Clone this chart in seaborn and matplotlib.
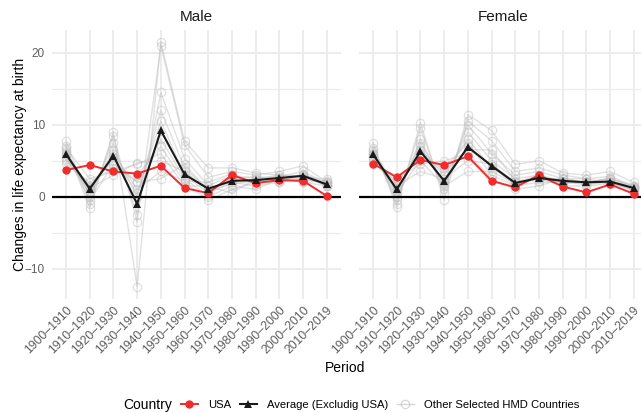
import matplotlib
matplotlib.use("Agg")
import matplotlib.pyplot as plt
from matplotlib.lines import Line2D
import numpy as np
import pandas as pd
import seaborn as sns

periods = ["1900–1910", "1910–1920", "1920–1930", "1930–1940", "1940–1950", "1950–1960",
           "1960–1970", "1970–1980", "1980–1990", "1990–2000", "2000–2010", "2010–2019"]

usa_male = [3.7, 4.4, 3.5, 3.2, 4.3, 1.2, 0.5, 3.0, 1.9, 2.3, 2.2, 0.1]
avg_male = [5.9, 1.1, 5.7, -1.0, 9.2, 3.1, 1.1, 2.2, 2.3, 2.6, 2.9, 1.7]
usa_female = [4.6, 2.7, 5.1, 4.4, 5.6, 2.2, 1.3, 3.0, 1.4, 0.6, 1.7, 0.4]
avg_female = [5.9, 1.0, 6.3, 2.2, 6.9, 4.3, 1.9, 2.6, 2.2, 2.0, 2.1, 1.2]

others = ["Spain", "Italy", "France", "Netherlands", "Belgium", "Switzerland",
          "Denmark", "Sweden", "Norway", "Finland", "Canada"]

other_male = [
    [7.0, -1.6, 9.0, -12.5, 21.5, 7.7, 4.0, 4.0, 3.3, 3.0, 2.8, 2.4],
    [7.7, -1.0, 8.5, -3.5, 21.0, 7.2, 2.7, 3.5, 3.0, 3.5, 4.3, 2.0],
    [6.5, 0.0, 7.5, -2.5, 14.5, 5.3, 1.5, 3.0, 2.5, 2.8, 3.5, 1.8],
    [6.0, 0.5, 6.5, 0.0, 12.0, 4.0, 1.0, 2.5, 2.0, 2.5, 3.0, 1.5],
    [5.5, 1.0, 5.5, 0.5, 10.5, 3.0, 0.5, 2.0, 1.5, 2.0, 2.5, 1.8],
    [5.0, 1.5, 5.0, 2.0, 8.0, 2.5, 0.0, 1.5, 1.0, 2.5, 2.0, 1.5],
    [4.5, 2.0, 4.0, 3.0, 7.0, 2.0, -0.5, 1.0, 2.0, 2.0, 3.0, 2.0],
    [6.8, 2.5, 3.5, 4.5, 6.0, 1.5, 1.5, 0.5, 2.5, 3.0, 2.8, 1.5],
    [5.8, 1.2, 3.0, 4.7, 5.0, 3.5, 1.0, 2.5, 2.8, 2.5, 2.0, 2.2],
    [5.2, 0.8, 6.0, 1.0, 3.5, 2.2, 2.0, 3.2, 1.8, 2.2, 3.2, 1.6],
    [6.2, -0.5, 4.5, 2.0, 2.5, 4.5, 0.8, 1.8, 2.2, 2.6, 2.5, 1.9],
]

other_female = [
    [7.5, -1.5, 10.3, -0.5, 11.4, 9.2, 4.5, 5.0, 3.3, 3.0, 3.5, 2.0],
    [6.8, -1.0, 9.5, 0.5, 10.5, 7.8, 3.5, 4.0, 3.0, 2.5, 2.8, 1.5],
    [6.5, -0.5, 8.0, 1.0, 10.0, 6.0, 3.0, 3.5, 2.5, 2.0, 2.5, 1.2],
    [6.0, 0.0, 7.5, 2.0, 9.0, 5.0, 2.5, 3.0, 2.0, 1.8, 2.0, 0.8],
    [5.5, 1.0, 6.5, 3.0, 8.0, 4.0, 2.0, 2.5, 1.5, 1.5, 1.8, 1.2],
    [5.0, 2.0, 5.5, 4.0, 7.5, 3.0, 1.5, 2.0, 2.0, 2.0, 2.5, 1.5],
    [4.5, 2.5, 4.5, 5.0, 6.0, 2.5, 1.0, 1.5, 2.5, 2.5, 2.0, 1.0],
    [6.2, 1.5, 3.5, 2.5, 5.0, 4.5, 2.0, 3.0, 2.2, 1.6, 2.2, 1.3],
    [5.8, 0.5, 5.0, 1.5, 3.5, 3.5, 1.8, 2.8, 1.8, 2.2, 1.8, 1.1],
    [5.2, 1.2, 6.0, 3.5, 6.5, 6.5, 2.2, 2.2, 2.6, 1.9, 2.6, 1.4],
    [5.9, 0.8, 7.0, 1.8, 7.0, 4.2, 1.6, 2.6, 2.0, 2.1, 2.1, 0.9],
]

# long table
rows = []
for sex, usa, avg, oth in [("Male", usa_male, avg_male, other_male),
                           ("Female", usa_female, avg_female, other_female)]:
    for p, v in zip(periods, usa):
        rows.append((sex, "USA", p, v))
    for p, v in zip(periods, avg):
        rows.append((sex, "Average (Excludig USA)", p, v))
    for name, vals in zip(others, oth):
        for p, v in zip(periods, vals):
            rows.append((sex, name, p, v))
df = pd.DataFrame(rows, columns=["Sex", "Country", "Period", "Change"])

plt.rcParams["font.family"] = ["Liberation Sans", "DejaVu Sans"]

W, H = 641, 413
fig = plt.figure(figsize=(W / 100, H / 100), dpi=100)

pw = 289.2
top, bot = 29.7, 298.9
lefts = [51.8, 358.8]

grey_c = "#BDBDBD"
red_c = "#F02C2C"
blk_c = "#1A1A1A"
tick_c = "#5E5E5E"

for i, sex in enumerate(["Male", "Female"]):
    ax = fig.add_axes([lefts[i] / W, 1 - bot / H, pw / W, (bot - top) / H])
    sub = df[df["Sex"] == sex]
    oth = sub[~sub["Country"].isin(["USA", "Average (Excludig USA)"])]
    sns.lineplot(data=oth, x="Period", y="Change", units="Country", estimator=None,
                 sort=False, color=grey_c, alpha=0.45, lw=1.0, marker="o", ms=6,
                 markerfacecolor="none", markeredgecolor=grey_c, markeredgewidth=0.9,
                 legend=False, ax=ax)
    ax.axhline(0, color="black", lw=1.6, zorder=3)
    sns.lineplot(data=sub[sub["Country"] == "USA"], x="Period", y="Change", sort=False,
                 color=red_c, lw=1.4, marker="o", ms=6, markeredgecolor=red_c,
                 markeredgewidth=0, legend=False, ax=ax, zorder=4)
    sns.lineplot(data=sub[sub["Country"] == "Average (Excludig USA)"], x="Period", y="Change",
                 sort=False, color=blk_c, lw=1.5, marker="^", ms=6, markeredgecolor=blk_c,
                 markeredgewidth=0, legend=False, ax=ax, zorder=5)

    ax.set_xlim(-0.6, len(periods) - 0.4)
    ax.set_ylim(-14.2, 23.2)
    ax.set_yticks([-10, 0, 10, 20])
    ax.set_yticks([-5, 5, 15], minor=True)
    ax.set_xticks(range(len(periods)))
    ax.set_xticklabels(periods, rotation=45, ha="right", va="top",
                       rotation_mode="anchor", fontsize=8.8, color=tick_c)
    ax.grid(which="major", color="#EBEBEB", lw=1.3)
    ax.grid(which="minor", axis="y", color="#EBEBEB", lw=0.8)
    ax.set_axisbelow(True)
    for s in ax.spines.values():
        s.set_visible(False)
    ax.tick_params(which="both", length=0)
    ax.tick_params(axis="x", pad=4)
    ax.tick_params(axis="y", pad=5, labelsize=8.5, labelcolor=tick_c)
    ax.set_xlabel("")
    ax.set_ylabel("")
    if i == 1:
        ax.set_yticklabels([])
    ax.set_title(sex, fontsize=11, color="#1A1A1A", pad=6)

fig.text(20 / W, 1 - 164 / H, "Changes in life expectancy at birth", rotation=90,
         ha="center", va="center", fontsize=10)
fig.text(345 / W, 1 - 368 / H, "Period", ha="center", va="center", fontsize=10)

# legend
fig.text(123 / W, 1 - 405 / H, "Country", ha="left", va="center", fontsize=10)
handles = [
    Line2D([], [], color=red_c, lw=1.4, marker="o", ms=6, markeredgewidth=0),
    Line2D([], [], color=blk_c, lw=1.5, marker="^", ms=6, markeredgewidth=0),
    Line2D([], [], color=grey_c, lw=1.0, marker="o", ms=6, markerfacecolor="none",
           markeredgewidth=0.9, alpha=0.6),
]
fig.legend(handles, ["USA", "Average (Excludig USA)", "Other Selected HMD Countries"],
           loc="center", bbox_to_anchor=(380 / W, 1 - 405 / H), ncol=3, frameon=False,
           fontsize=8.1, handlelength=1.5, handletextpad=0.9, columnspacing=0.8,
           borderpad=0, borderaxespad=0)

fig.savefig("out.png", dpi=100)
